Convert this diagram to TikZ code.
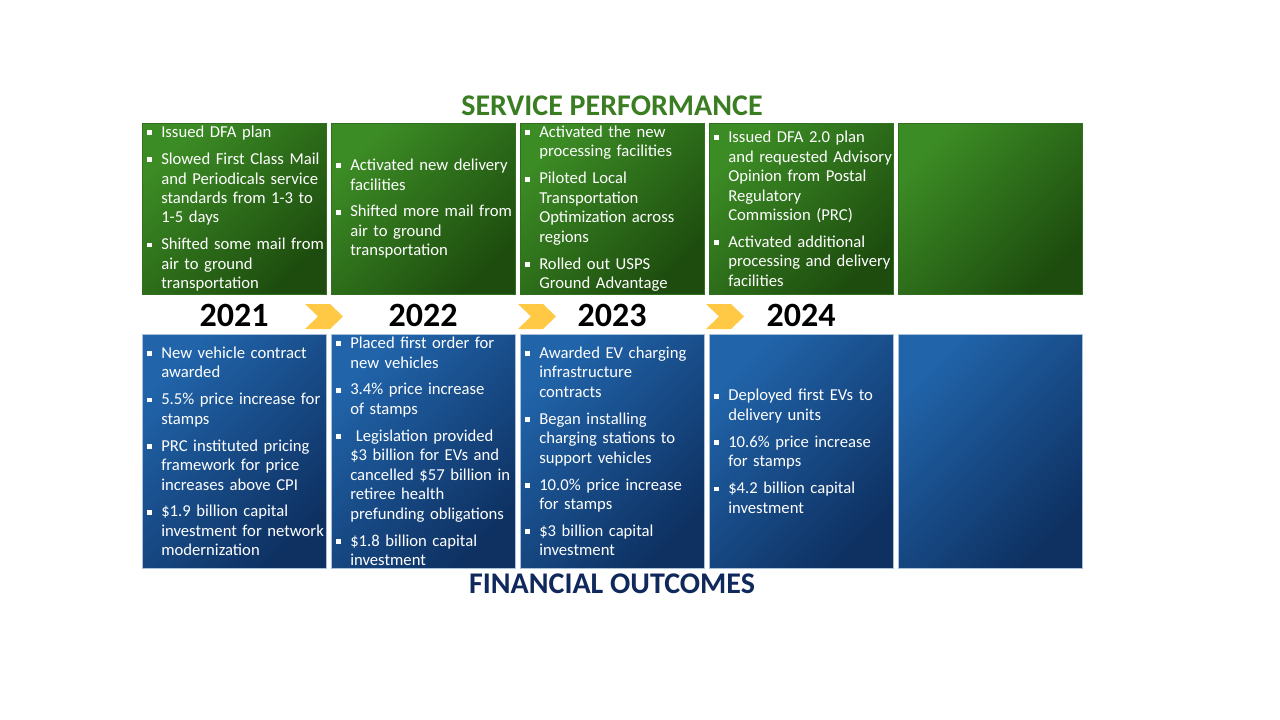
\documentclass[tikz,border=0pt]{standalone}
\usepackage{fontspec}
\setmainfont{Carlito}
\definecolor{gTL}{HTML}{3C8C25}
\definecolor{gBR}{HTML}{1D4C0E}
\definecolor{bTL}{HTML}{2164AA}
\definecolor{bBR}{HTML}{0E3162}
\definecolor{gTitle}{HTML}{3A7D22}
\definecolor{bTitle}{HTML}{10295C}
\definecolor{chev}{HTML}{FFC845}
\definecolor{bEdge}{HTML}{A9C1DA}
\newcommand{\bi}[1]{\noindent\hangindent=10.5pt\hangafter=1\makebox[10.5pt][l]{\raisebox{0.3ex}{\rule{3.6pt}{3.6pt}}}#1\par}
\tikzset{
  gbox/.style={rectangle, inner sep=0pt, minimum width=138pt, minimum height=128.25pt, anchor=north west,
    top color=gTL, bottom color=gBR, shading angle=45, draw=gTL!80!black, line width=0.4pt},
  bbox/.style={rectangle, inner sep=0pt, minimum width=138pt, minimum height=175.5pt, anchor=north west,
    top color=bTL, bottom color=bBR, shading angle=45, draw=bEdge, line width=0.6pt},
  btext/.style={anchor=west, inner sep=0pt, text width=140pt, text=white,
    font=\fontsize{12.5}{14.6}\selectfont\setlength{\parskip}{5.6pt}\raggedright},
  year/.style={font=\fontsize{25.5}{28}\selectfont\bfseries, text=black, inner sep=0pt},
  chevron/.style={fill=chev},
  title/.style={font=\fontsize{22.5}{26}\selectfont\bfseries, inner sep=0pt}
}
\begin{document}
\begin{tikzpicture}[x=0.75pt, y=-0.75pt]
\useasboundingbox[fill=white] (0,0) rectangle (1280,720);
% green boxes
\node[gbox] (g1) at (142,123) {};
\node[gbox] (g2) at (331,123) {};
\node[gbox] (g3) at (520,123) {};
\node[gbox] (g4) at (709,123) {};
\node[gbox] (g5) at (898,123) {};
% blue boxes
\node[bbox] (b1) at (142,334) {};
\node[bbox] (b2) at (331,334) {};
\node[bbox] (b3) at (520,334) {};
\node[bbox] (b4) at (709,334) {};
\node[bbox] (b5) at (898,334) {};
% titles
\node[title, text=gTitle] (sp) at (612,106) {SERVICE PERFORMANCE};
\node[title, text=bTitle] (fo) at (612,584) {FINANCIAL OUTCOMES};
% years
\node[year] (y1) at (234,315) {2021};
\node[year] (y2) at (423,315) {2022};
\node[year] (y3) at (612,315) {2023};
\node[year] (y4) at (801,315) {2024};
% chevrons
\fill[chevron] (305,304) -- ++(25,0) -- ++(13,12.5) -- ++(-13,12.5) -- ++(-25,0) -- ++(13,-12.5) -- cycle;
\fill[chevron] (518,304) -- ++(25,0) -- ++(13,12.5) -- ++(-13,12.5) -- ++(-25,0) -- ++(13,-12.5) -- cycle;
\fill[chevron] (706,304) -- ++(25,0) -- ++(13,12.5) -- ++(-13,12.5) -- ++(-25,0) -- ++(13,-12.5) -- cycle;
% green texts
\node[btext] (gt1) at ([xshift=3.75pt]g1.west) {%
\bi{Issued DFA plan}
\bi{Slowed First Class Mail\newline and Periodicals service\newline standards from 1-3 to\newline 1-5 days}
\bi{Shifted some mail from\newline air to ground\newline transportation}};
\node[btext] (gt2) at ([xshift=3.75pt]g2.west) {%
\bi{Activated new delivery\newline facilities}
\bi{Shifted more mail from\newline air to ground\newline transportation}};
\node[btext] (gt3) at ([xshift=3.75pt]g3.west) {%
\bi{Activated the new\newline processing facilities}
\bi{Piloted Local\newline Transportation\newline Optimization across\newline regions}
\bi{Rolled out USPS\newline Ground Advantage}};
\node[btext] (gt4) at ([xshift=3.75pt]g4.west) {%
\bi{Issued DFA 2.0 plan\newline and requested Advisory\newline Opinion from Postal\newline Regulatory\newline Commission (PRC)}
\bi{Activated additional\newline processing and delivery\newline facilities}};
% blue texts
\node[btext] (bt1) at ([xshift=3.75pt]b1.west) {%
\bi{New vehicle contract\newline awarded}
\bi{5.5\% price increase for\newline stamps}
\bi{PRC instituted pricing\newline framework for price\newline increases above CPI}
\bi{\$1.9 billion capital\newline investment for network\newline modernization}};
\node[btext] (bt2) at ([xshift=3.75pt]b2.west) {%
\bi{Placed first order for\newline new vehicles}
\bi{3.4\% price increase\newline of stamps}
\bi{\ Legislation provided\newline \$3 billion for EVs and\newline cancelled \$57 billion in\newline retiree health\newline prefunding obligations}
\bi{\$1.8 billion capital\newline investment}};
\node[btext] (bt3) at ([xshift=3.75pt]b3.west) {%
\bi{Awarded EV charging\newline infrastructure\newline contracts}
\bi{Began installing\newline charging stations to\newline support vehicles}
\bi{10.0\% price increase\newline for stamps}
\bi{\$3 billion capital\newline investment}};
\node[btext] (bt4) at ([xshift=3.75pt]b4.west) {%
\bi{Deployed first EVs to\newline delivery units}
\bi{10.6\% price increase\newline for stamps}
\bi{\$4.2 billion capital\newline investment}};
\end{tikzpicture}
\end{document}
